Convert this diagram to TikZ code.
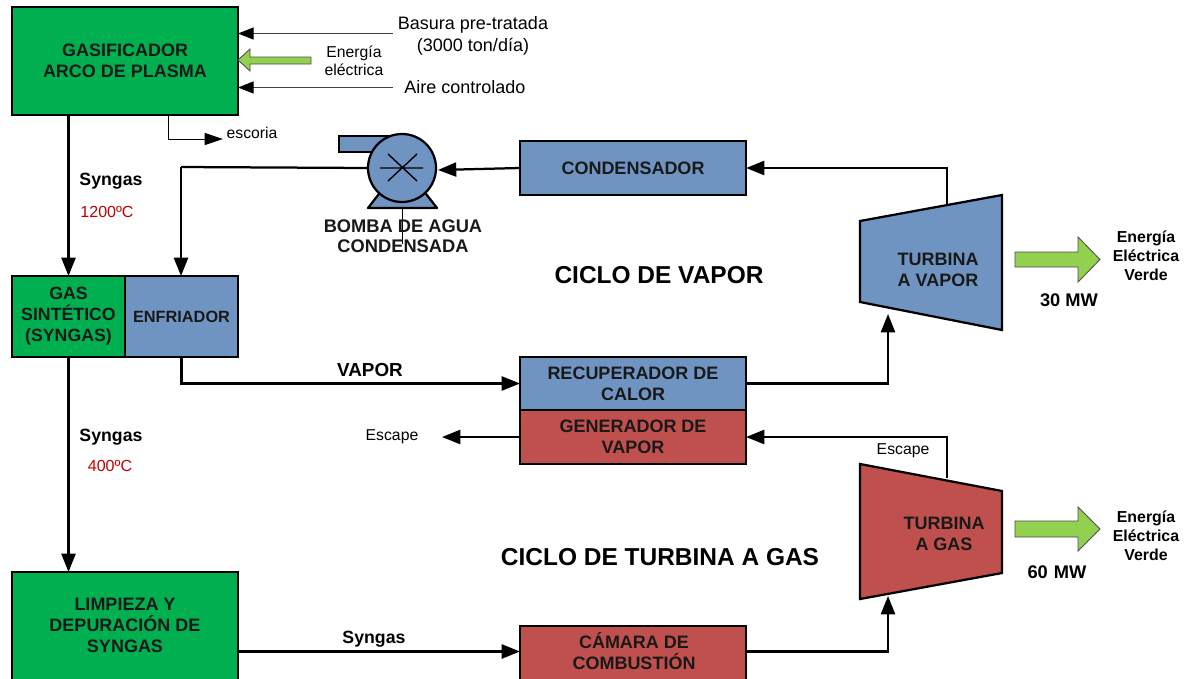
\documentclass[tikz,border=0pt]{standalone}
\usepackage{fontspec}
\setmainfont{Liberation Sans}
\usetikzlibrary{arrows.meta}
\definecolor{gasgreen}{HTML}{00B050}
\definecolor{cycleblue}{HTML}{7094C2}
\definecolor{cyclered}{HTML}{C0504D}
\definecolor{powergreen}{HTML}{92D050}
\newcommand{\fsz}[2]{\fontsize{#1}{#2}\selectfont}
\tikzset{
  unit/.style={draw=black, line width=1.6pt, inner sep=0pt, outer sep=0pt, align=center, font=\bfseries\fsz{12.8}{15}, text=black!90},
  greenunit/.style={unit, fill=gasgreen},
  blueunit/.style={unit, fill=cycleblue},
  redunit/.style={unit, fill=cyclered},
  flow/.style={line width=1.6pt, -{Triangle[length=13pt,width=10pt]}},
  thinflow/.style={line width=0.7pt, black!75, -{Triangle[length=11pt,width=8.5pt,color=black]}},
  line/.style={line width=1.6pt},
  power/.style={draw=black!70, line width=0.6pt, fill=powergreen},
  label/.style={inner sep=0pt, align=center, font=\fsz{12.8}{15.5}},
  smalllabel/.style={inner sep=0pt, align=center, font=\fsz{11.2}{12.5}},
  boldlabel/.style={inner sep=0pt, align=center, font=\bfseries\fsz{12.6}{14}},
  templabel/.style={inner sep=0pt, text=red!75!black, font=\fsz{11.4}{12}},
  cyclelabel/.style={inner sep=0pt, font=\bfseries\fsz{17.4}{20}},
  verdelabel/.style={boldlabel, font=\bfseries\fsz{11.3}{13.4}},
  mwlabel/.style={boldlabel, font=\bfseries\fsz{13}{15}},
}
\begin{document}
\begin{tikzpicture}[x=0.025cm,y=-0.025cm]
\clip (0,0) rectangle (1194,678);
% process units
\node[greenunit, minimum width=5.65cm, minimum height=2.7cm] (gasificador) at (125,61) {GASIFICADOR\\ARCO DE PLASMA};
\node[greenunit, minimum width=2.825cm, minimum height=2.025cm, font=\bfseries\fsz{12.6}{15}] (syngas) at (68.5,316.5) {GAS\\SINTÉTICO\\(SYNGAS)};
\node[blueunit, minimum width=2.825cm, minimum height=2.025cm, font=\bfseries\fsz{11.6}{15}] (enfriador) at (181.5,316.5) {ENFRIADOR};
\node[greenunit, minimum width=5.65cm, minimum height=3.3cm] (limpieza) at (125,638) {};
\node[unit, draw=none] (limpiezatext) at (125,625) {LIMPIEZA Y\\DEPURACIÓN DE\\SYNGAS};
\node[blueunit, minimum width=5.65cm, minimum height=1.35cm] (condensador) at (633,168) {CONDENSADOR};
\node[blueunit, minimum width=5.65cm, minimum height=1.325cm] (recuperador) at (633,383.5) {RECUPERADOR DE\\CALOR};
\node[redunit, minimum width=5.65cm, minimum height=1.35cm] (generador) at (633,437) {GENERADOR DE\\VAPOR};
\node[redunit, minimum width=5.65cm, minimum height=1.5cm] (camara) at (633,656) {};
\node[unit, draw=none] (camaratext) at (634,651.5) {CÁMARA DE\\COMBUSTIÓN};
% turbines
\draw[unit, fill=cycleblue] (860,221) -- (1002,195) -- (1002,330) -- (860,302) -- cycle;
\draw[unit, fill=cyclered] (860,464) -- (1002,491) -- (1002,573) -- (860,599) -- cycle;
\node[unit, draw=none] (vaporturbine) at (938,270) {TURBINA\\A VAPOR};
\node[unit, draw=none] (gasturbine) at (944,534) {TURBINA\\A GAS};
\coordinate (vaporout) at (947,205);
\coordinate (vaporin) at (888,314);
\coordinate (gasout) at (947,478);
\coordinate (gasin) at (888,596);
% pump
\draw[line, fill=cycleblue] (339,136) rectangle (403,152);
\draw[line, line join=round, fill=cycleblue] (368,208) -- (382,190) -- (423,190) -- (437,208) -- cycle;
\node[draw=black, line width=1.6pt, fill=cycleblue, circle, minimum size=1.7cm, inner sep=0pt, outer sep=0pt] (bomba) at (402,168) {};
\draw[line width=1pt] (380,168) -- (423,168) (388,154) -- (417,181) (417,154) -- (388,181);
\draw[line width=0.6pt] (402,208) -- (402,244);
\node[unit, draw=none, font=\bfseries\fsz{13}{14.5}] (bombatext) at (403,236) {BOMBA DE AGUA\\CONDENSADA};
\coordinate (bombain) at (438,170);
% inputs of the gasifier
\node[label] (basura) at (473,35.5) {Basura pre-tratada\\(3000 ton/día)};
\node[label] (aire) at (465,87) {Aire controlado};
\node[smalllabel] (energia) at (354,61) {Energía\\eléctrica};
\node[smalllabel] (escoria) at (252,133) {escoria};
\coordinate (basuraend) at (393,33.5);
\coordinate (aireend) at (393,87.5);
\coordinate (escoriaout) at (168,115);
\coordinate (escoriaend) at (223,139);
\coordinate (pumpturn) at (181,167);
\coordinate (escapeend) at (442,437);
\draw[thinflow] (basuraend) -- (gasificador.east |- basuraend);
\draw[thinflow] (aireend) -- (gasificador.east |- aireend);
\draw[line width=0.7pt, -{Triangle[length=13pt,width=8.5pt]}] (escoriaout) |- (escoriaend);
\draw[power] (238,60) -- (250,49) -- (250,57) -- (311,57) -- (311,64) -- (250,64) -- (250,71) -- cycle;
% main flows
\draw[flow] (gasificador.south -| syngas) -- (syngas.north);
\draw[flow] (syngas.south) -- (limpieza.north -| syngas);
\draw[flow] (condensador.west) -- (bombain);
\draw[line] (bomba.west) -- (pumpturn);
\draw[flow] (pumpturn) -- (pumpturn |- enfriador.north);
\draw[flow] (enfriador.south) |- (recuperador.west);
\draw[flow] (vaporout) |- (condensador.east);
\draw[flow] (recuperador.east) -| (vaporin);
\draw[flow] (gasout) |- (generador.east);
\draw[flow] (generador.west) -- (escapeend);
\draw[flow] (limpieza.east |- camaratext) -- (camara.west |- camaratext);
\draw[flow] (camara.east |- camaratext) -| (gasin);
% power output
\draw[power] (1015,252) -- (1078,252) -- (1078,237) -- (1100,259.5) -- (1078,282) -- (1078,267) -- (1015,267) -- cycle;
\draw[power] (1015,521) -- (1078,521) -- (1078,507) -- (1100,529) -- (1078,551) -- (1078,537) -- (1015,537) -- cycle;
% labels
\node[boldlabel] (syngasa) at (111,181) {Syngas};
\node[templabel] (tempa) at (107,212) {1200ºC};
\node[boldlabel] (syngasb) at (111,437) {Syngas};
\node[templabel] (tempb) at (110,466) {400ºC};
\node[boldlabel] (syngasc) at (374,639) {Syngas};
\node[boldlabel, font=\bfseries\fsz{13.4}{15}] (vapor) at (370,370) {VAPOR};
\node[smalllabel] (escapea) at (392,437) {Escape};
\node[smalllabel] (escapeb) at (903,451) {Escape};
\node[cyclelabel] (ciclovapor) at (659,275) {CICLO DE  VAPOR};
\node[cyclelabel] (ciclogas) at (660,557) {CICLO DE TURBINA A  GAS};
\node[mwlabel] (mwa) at (1069,300) {30 MW};
\node[mwlabel] (mwb) at (1057,572) {60\,\,MW};
\node[verdelabel] (verdea) at (1146,256) {Energía\\Eléctrica\\Verde};
\node[verdelabel] (verdeb) at (1146,536) {Energía\\Eléctrica\\Verde};
\end{tikzpicture}
\end{document}
